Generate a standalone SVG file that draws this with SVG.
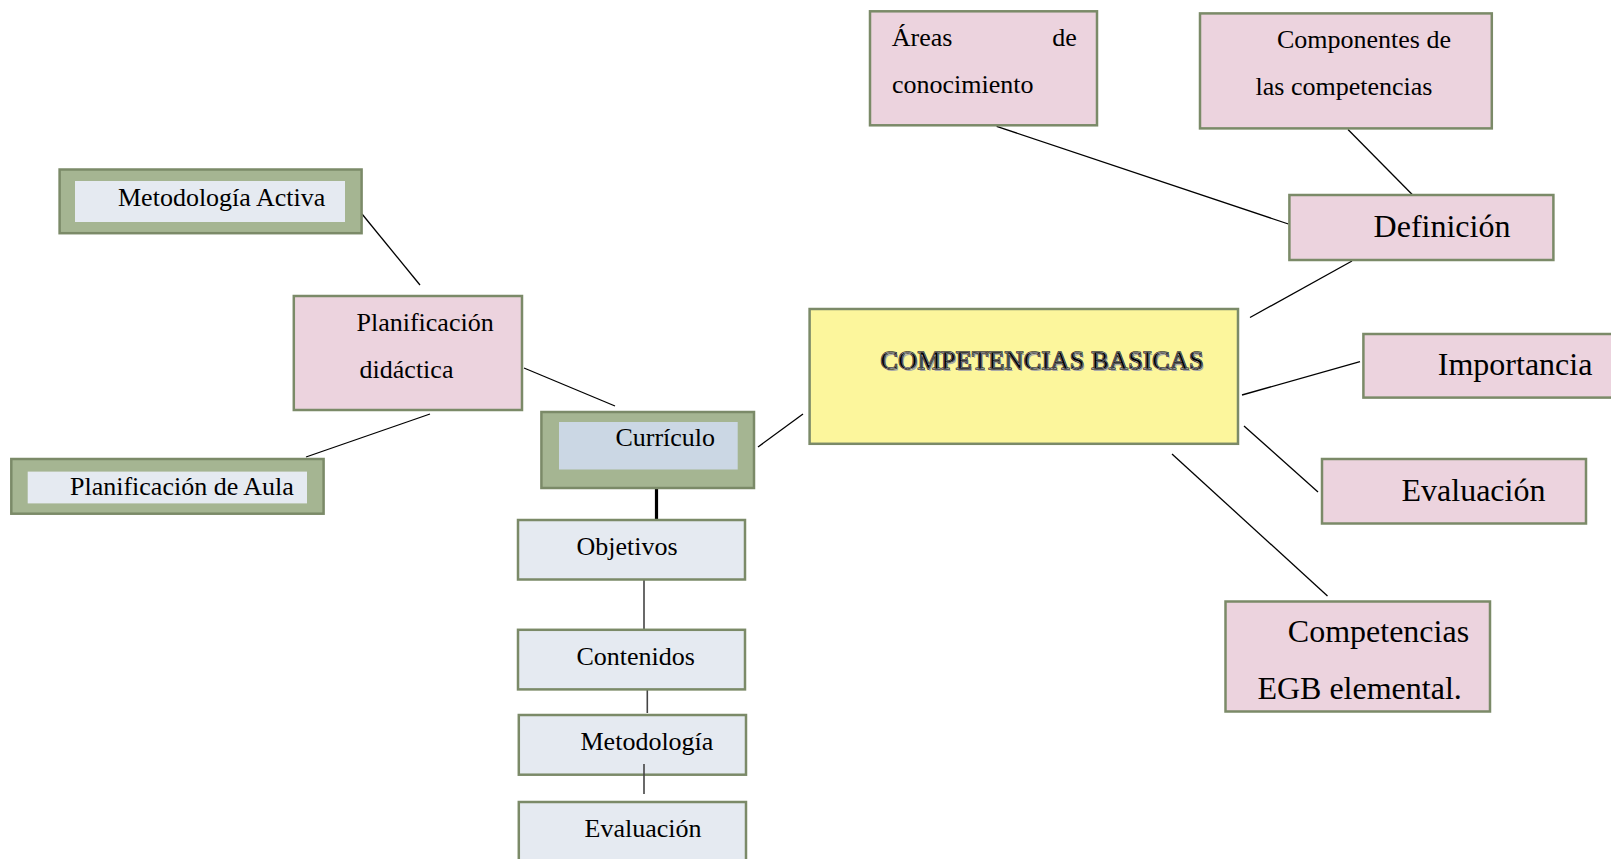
<svg xmlns="http://www.w3.org/2000/svg" width="1611" height="859" viewBox="0 0 1611 859">
<defs>
<style>
.bx{stroke:#7b8a68;stroke-width:2.5}
.pink{fill:#ecd3de}
.lite{fill:#e5eaf1}
.green{fill:#a5b592}
.cur{fill:#cbd7e4}
.yel{fill:#fcf69c}
.t{font-family:"Liberation Serif","Times New Roman",serif;font-size:26px;fill:#000}
.tb{font-family:"Liberation Serif","Times New Roman",serif;font-size:32px;fill:#000}
.ln{stroke:#000;stroke-width:1.3;fill:none}
.vl{stroke:#444;stroke-width:1.6;fill:none}
</style>
</defs>
<rect width="1611" height="859" fill="#fff"/>
<g id="connectors">
<line class="ln" x1="362" y1="214" x2="420" y2="285"/>
<line class="ln" x1="430" y1="414" x2="306" y2="457"/>
<line class="ln" x1="524" y1="368" x2="615" y2="406"/>
<line class="ln" x1="758" y1="447" x2="803" y2="414"/>
<line class="ln" x1="1250" y1="317.5" x2="1352" y2="261"/>
<line class="ln" x1="996.6" y1="126.4" x2="1288.4" y2="224"/>
<line class="ln" x1="1348" y1="129.5" x2="1412.7" y2="195"/>
<line class="ln" x1="1242" y1="395" x2="1360" y2="361.7"/>
<line class="ln" x1="1244" y1="426" x2="1318" y2="492"/>
<line class="ln" x1="1172" y1="454" x2="1327.5" y2="596"/>
<line x1="656.5" y1="488" x2="656.5" y2="519" stroke="#000" stroke-width="3.2"/>
<line class="vl" x1="644" y1="579.5" x2="644" y2="629"/>
<line class="vl" x1="647.3" y1="689.4" x2="647.3" y2="713"/>
</g>
<g id="metodologia-activa">
<rect class="bx green" x="59.6" y="169.5" width="302" height="63.7"/>
<rect class="lite" x="75" y="181" width="270" height="41"/>
<text class="t" x="118" y="206">Metodología Activa</text>
</g>
<g id="planificacion-didactica">
<rect class="bx pink" x="293.8" y="296" width="228.2" height="114"/>
<text class="t" x="356.5" y="331">Planificación</text>
<text class="t" x="359.6" y="378">didáctica</text>
</g>
<g id="planificacion-aula">
<rect class="bx green" x="11.3" y="459" width="312.3" height="54.7"/>
<rect class="lite" x="27.7" y="471.6" width="279.3" height="31.8"/>
<text class="t" x="70" y="495">Planificación de Aula</text>
</g>
<g id="curriculo">
<rect class="bx green" x="541.4" y="412" width="212.6" height="76"/>
<rect class="cur" x="559" y="422" width="178.7" height="47.5"/>
<text class="t" x="615.4" y="446">Currículo</text>
</g>
<g id="objetivos">
<rect class="bx lite" x="518" y="520" width="227" height="59.5"/>
<text class="t" x="576.4" y="555">Objetivos</text>
</g>
<g id="contenidos">
<rect class="bx lite" x="518" y="629.8" width="227" height="59.6"/>
<text class="t" x="576.4" y="665">Contenidos</text>
</g>
<g id="metodologia">
<rect class="bx lite" x="518.8" y="715" width="227.2" height="59.7"/>
<text class="t" x="580.5" y="750">Metodología</text>
</g>
<line class="vl" x1="644" y1="764" x2="644" y2="794"/>
<g id="evaluacion-curriculo">
<rect class="bx lite" x="518.8" y="802" width="227.2" height="70"/>
<text class="t" x="584.6" y="837">Evaluación</text>
</g>
<g id="competencias-basicas">
<rect class="bx yel" x="809.6" y="309" width="428.4" height="134.8"/>
<text class="t" x="882" y="370.5" textLength="323" style="fill:#aaa">COMPETENCIAS BASICAS</text>
<text class="t" x="880.5" y="368.8" textLength="323" style="fill:#000;stroke:#000;stroke-width:1.4">COMPETENCIAS BASICAS</text>
<text class="t" x="880.5" y="368.8" textLength="323" style="fill:none;stroke:#d8d8d8;stroke-width:0.4">COMPETENCIAS BASICAS</text>
</g>
<g id="areas">
<rect class="bx pink" x="870" y="11.3" width="227" height="114"/>
<text class="t" x="891.8" y="46">Áreas</text>
<text class="t" x="1076.7" y="46" text-anchor="end">de</text>
<text class="t" x="892" y="92.5">conocimiento</text>
</g>
<g id="componentes">
<rect class="bx pink" x="1200" y="13.4" width="291.8" height="115"/>
<text class="t" x="1277" y="48.3">Componentes de</text>
<text class="t" x="1255.5" y="94.5">las competencias</text>
</g>
<g id="definicion">
<rect class="bx pink" x="1289.4" y="195" width="264" height="65"/>
<text class="tb" x="1373.6" y="236.5">Definición</text>
</g>
<g id="importancia">
<rect class="bx pink" x="1363.4" y="334" width="252" height="63.6"/>
<text class="tb" x="1437.8" y="375">Importancia</text>
</g>
<g id="evaluacion">
<rect class="bx pink" x="1322" y="459" width="264" height="64.5"/>
<text class="tb" x="1401.5" y="501.4">Evaluación</text>
</g>
<g id="competencias-egb">
<rect class="bx pink" x="1225.5" y="601.5" width="264.5" height="110"/>
<text class="tb" x="1287.8" y="642">Competencias</text>
<text class="tb" x="1257.4" y="698.5">EGB elemental.</text>
</g>
</svg>
